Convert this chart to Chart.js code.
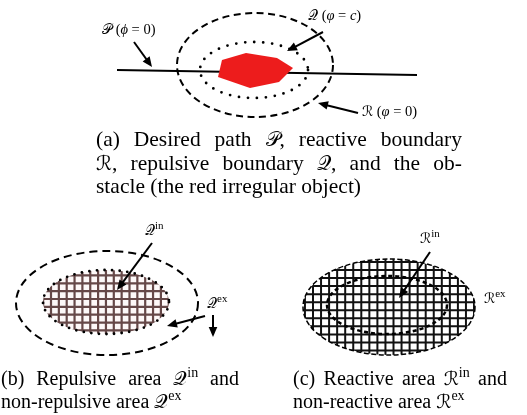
<!DOCTYPE html>
<html>
<head>
<meta charset="utf-8">
<script src="https://cdn.jsdelivr.net/npm/chart.js@4/dist/chart.umd.min.js"></script>
<style>
  html, body { margin: 0; padding: 0; background: #fff; }
  canvas { display: block; }
</style>
</head>
<body>
<canvas id="fig" width="527" height="415"></canvas>
<script>
// Diagram geometry, in figure units (x to the right, y downwards).

// (a) desired path and obstacle
const pathP = [{x: 117, y: 70}, {x: 417, y: 75}];
const obstacle = [
  {x: 222, y: 60}, {x: 246, y: 53}, {x: 277, y: 58}, {x: 293, y: 68},
  {x: 279, y: 82}, {x: 250, y: 88}, {x: 218, y: 77}, {x: 222, y: 60}
];

// ellipses as [centreX, centreY, radiusX, radiusY]
const boundaryR_a = [255, 65, 78, 52];
const boundaryQ_a = [254, 70, 54, 28];
const outerQ_b    = [107, 303, 91, 52];
const innerQ_b    = [106, 302, 63, 32];
const outerR_c    = [389, 307, 86, 48];
const innerR_c    = [387, 305, 60, 29];

// arrows as [fromX, fromY, toX, toY] (head at the "to" end)
const arrowsA = [[134, 42, 152, 67], [323, 32, 287, 51], [358, 113, 318, 103]];
const arrowsB = [[152, 243, 117, 290], [205, 316, 167, 326], [213, 315, 213, 337]];
const arrowsC = [[430, 252, 399, 298]];

// text styles
const SERIF = '"Liberation Serif", "Times New Roman", serif';
const SCRIPTF = '"DejaVu Serif", "DejaVu Sans", serif';
const NA  = {font: '21.5px ' + SERIF};
const SA  = {font: '20px ' + SCRIPTF};
const N   = {font: '20px ' + SERIF};
const S   = {font: '19px ' + SCRIPTF};
const SUP = {font: '14px ' + SERIF, dy: -8};
const LN  = {font: '14.5px ' + SERIF};
const LI  = {font: 'italic 14.5px ' + SERIF};
const LS  = {font: '14px ' + SCRIPTF};
const LSUP = {font: '11px ' + SERIF, dy: -6};

// labels inside the figure: [x, baseline, parts]
const labels = [
  [102, 34,  [['𝒫', LS], [' (', LN], ['ϕ', LI], [' = 0)', LN]]],
  [308, 20,  [['𝒬', LS], [' (', LN], ['φ', LI], [' = ', LN], ['c', LI], [')', LN]]],
  [362, 116, [['ℛ', LS], [' (', LN], ['φ', LI], [' = 0)', LN]]],
  [145, 235, [['𝒬', LS], ['in', LSUP]]],
  [207, 308, [['𝒬', LS], ['ex', LSUP]]],
  [420, 243, [['ℛ', LS], ['in', LSUP]]],
  [484, 303, [['ℛ', LS], ['ex', LSUP]]]
];

// captions: [x, baseline, parts, justifyWidth, horizontalScale]
const captions = [
  [96, 146, [['(a) Desired path ', NA], ['𝒫', SA], [', reactive boundary', NA]], 366, 1],
  [96, 169.5, [['ℛ', SA], [', repulsive boundary ', NA], ['𝒬', SA], [', and the ob-', NA]], 366, 1],
  [96, 193, [['stacle (the red irregular object)', NA]], 0, 1],
  [1, 385, [['(b) Repulsive area ', N], ['𝒬', S], ['in', SUP], [' and', N]], 238, 1],
  [1, 408, [['non-repulsive area ', N], ['𝒬', S], ['ex', SUP]], 0, 1],
  [293, 385, [['(c) Reactive area ', N], ['ℛ', S], ['in', SUP], [' and', N]], 214, 1],
  [293, 408, [['non-reactive area ', N], ['ℛ', S], ['ex', SUP]], 0, 1]
];

function drawRuns(ctx, x, y, parts, width, hscale) {
  const k = hscale || 1;
  const tokens = [];
  parts.forEach(([t, st]) => {
    t.split(/( )/).forEach(s => { if (s !== '') tokens.push({t: s, st, space: s === ' '}); });
  });
  let total = 0, nsp = 0;
  tokens.forEach(tk => {
    ctx.font = tk.st.font;
    tk.w = ctx.measureText(tk.t).width;
    total += tk.w;
    if (tk.space) nsp++;
  });
  const extra = width && nsp ? Math.max(0, (width / k - total) / nsp) : 0;
  ctx.save();
  ctx.translate(x, y);
  ctx.scale(k, 1);
  let cx = 0;
  tokens.forEach(tk => {
    if (!tk.space) {
      ctx.font = tk.st.font;
      ctx.fillText(tk.t, cx, tk.st.dy || 0);
    }
    cx += tk.w + (tk.space ? extra : 0);
  });
  ctx.restore();
}

const figurePlugin = {
  id: 'figure',
  beforeDatasetsDraw(chart) {
    const ctx = chart.ctx, sx = chart.scales.x, sy = chart.scales.y;
    const px = v => sx.getPixelForValue(v), py = v => sy.getPixelForValue(v);
    const ell = (e) => {
      ctx.beginPath();
      ctx.ellipse(px(e[0]), py(e[1]), Math.abs(px(e[0] + e[2]) - px(e[0])),
                  Math.abs(py(e[1] + e[3]) - py(e[1])), 0, 0, Math.PI * 2);
    };
    const stroke = (e, w, dash, cap, color) => {
      ctx.save();
      ell(e);
      ctx.lineWidth = w; ctx.setLineDash(dash); ctx.lineCap = cap;
      ctx.strokeStyle = color || '#000';
      ctx.stroke();
      ctx.restore();
    };
    const hatch = (e, step, ox, oy, color, bg, w) => {
      ctx.save();
      ell(e); ctx.clip();
      ctx.fillStyle = bg; ctx.fill();
      ctx.strokeStyle = color; ctx.lineWidth = w;
      const l = px(e[0] - e[2]) - step, r = px(e[0] + e[2]) + step;
      const t = py(e[1] - e[3]) - step, b = py(e[1] + e[3]) + step;
      ctx.beginPath();
      for (let x = ox - Math.ceil((ox - l) / step) * step; x <= r; x += step) {
        ctx.moveTo(x, t); ctx.lineTo(x, b);
      }
      for (let y = oy - Math.ceil((oy - t) / step) * step; y <= b; y += step) {
        ctx.moveTo(l, y); ctx.lineTo(r, y);
      }
      ctx.stroke();
      ctx.restore();
    };

    // (a) reactive and repulsive boundaries
    stroke(boundaryR_a, 2, [7, 4.5], 'butt');
    stroke(boundaryQ_a, 2.8, [0, 9], 'round');

    // (b) repulsive area hatched, non-repulsive area bounded by dashes
    hatch(innerQ_b, 7.85, 51, 283.3, '#664848', '#fdf8f8', 2.2);
    stroke(innerQ_b, 2.8, [0, 7.6], 'round');
    stroke(outerQ_b, 2, [8, 5], 'butt');

    // (c) reactive area hatched
    hatch(outerR_c, 8.05, 313, 270, '#111', '#fff', 2);
    stroke(outerR_c, 1.5, [5, 2.5], 'butt');
    stroke(innerR_c, 2.5, [4, 3], 'butt');
  },
  afterDraw(chart) {
    const ctx = chart.ctx, sx = chart.scales.x, sy = chart.scales.y;
    const px = v => sx.getPixelForValue(v), py = v => sy.getPixelForValue(v);
    ctx.save();
    ctx.fillStyle = '#000'; ctx.strokeStyle = '#000';
    [...arrowsA, ...arrowsB, ...arrowsC].forEach(a => {
      const x1 = px(a[0]), y1 = py(a[1]), x2 = px(a[2]), y2 = py(a[3]);
      const ang = Math.atan2(y2 - y1, x2 - x1), hl = 10, hw = 4.3;
      ctx.lineWidth = 2; ctx.setLineDash([]);
      ctx.beginPath();
      ctx.moveTo(x1, y1);
      ctx.lineTo(x2 - Math.cos(ang) * hl * 0.8, y2 - Math.sin(ang) * hl * 0.8);
      ctx.stroke();
      ctx.beginPath();
      ctx.moveTo(x2, y2);
      ctx.lineTo(x2 - Math.cos(ang) * hl - Math.sin(ang) * hw, y2 - Math.sin(ang) * hl + Math.cos(ang) * hw);
      ctx.lineTo(x2 - Math.cos(ang) * hl + Math.sin(ang) * hw, y2 - Math.sin(ang) * hl - Math.cos(ang) * hw);
      ctx.closePath();
      ctx.fill();
    });
    ctx.textBaseline = 'alphabetic';
    labels.forEach(([x, y, parts]) => drawRuns(ctx, px(x), py(y), parts, 0, 1));
    captions.forEach(([x, y, parts, w, k]) => drawRuns(ctx, px(x), py(y), parts, w, k));
    ctx.restore();
  }
};

new Chart(document.getElementById('fig'), {
  type: 'scatter',
  data: {
    datasets: [
      {
        label: 'obstacle',
        type: 'line',
        data: obstacle,
        order: 0,
        borderWidth: 0,
        borderColor: '#ed1c1c',
        backgroundColor: '#ed1c1c',
        fill: 'shape',
        pointRadius: 0,
        tension: 0
      },
      {
        label: 'desired path',
        type: 'line',
        data: pathP,
        order: 1,
        borderColor: '#000',
        borderWidth: 2,
        pointRadius: 0,
        fill: false
      }
    ]
  },
  options: {
    responsive: false,
    animation: false,
    devicePixelRatio: 1,
    layout: { padding: 0 },
    plugins: { legend: { display: false }, tooltip: { enabled: false }, title: { display: false } },
    scales: {
      x: { type: 'linear', min: 0, max: 527, display: false },
      y: { type: 'linear', min: 0, max: 415, reverse: true, display: false }
    }
  },
  plugins: [figurePlugin]
});
</script>
</body>
</html>
